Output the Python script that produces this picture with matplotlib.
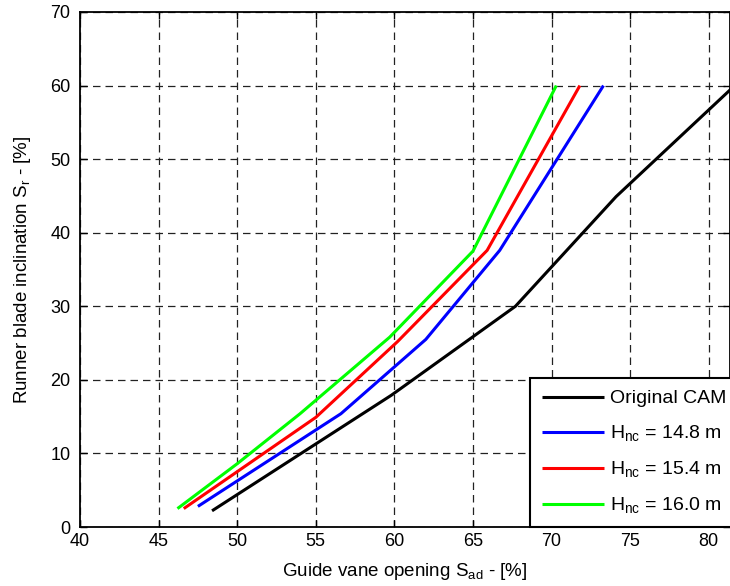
import matplotlib

matplotlib.use("Agg")
import matplotlib.pyplot as plt

# CAM curves: guide vane opening (%) vs runner blade inclination (%)
cam_x = [48.4, 59.8, 67.7, 74.1, 82.5]
cam_y = [2.2, 17.9, 30.0, 44.9, 61.7]

h148_x = [47.5, 56.6, 62.0, 66.7, 73.3]
h148_y = [2.8, 15.4, 25.5, 37.6, 60.0]

h154_x = [46.6, 55.0, 60.2, 65.9, 71.8]
h154_y = [2.5, 14.9, 25.2, 37.6, 60.0]

h160_x = [46.2, 50.0, 54.0, 59.7, 65.0, 70.3]
h160_y = [2.5, 8.6, 15.4, 25.8, 37.5, 60.0]

labels = [
    "Original CAM",
    r"$\mathregular{H_{nc}}$ = 14.8 m",
    r"$\mathregular{H_{nc}}$ = 15.4 m",
    r"$\mathregular{H_{nc}}$ = 16.0 m",
]
colors = ["#000000", "#0000ff", "#ff0000", "#00ff00"]

plt.rcParams["font.family"] = ["Liberation Sans", "DejaVu Sans"]
plt.rcParams["mathtext.fontset"] = "custom"
plt.rcParams["mathtext.rm"] = "Liberation Sans"

fig = plt.figure(figsize=(7.30, 5.86), dpi=100)
ax = fig.add_axes([80 / 730, 1 - 527 / 586, 650 / 730, 515 / 586])

series = [(cam_x, cam_y), (h148_x, h148_y), (h154_x, h154_y), (h160_x, h160_y)]
for (xs, ys), lab, col in zip(series, labels, colors):
    ax.plot(xs, ys, color=col, lw=2.2, label=lab, solid_capstyle="butt")

ax.set_xlim(40, 81.35)
ax.set_ylim(0, 70)
ax.set_xticks(range(40, 85, 5))
ax.set_yticks(range(0, 80, 10))

ax.grid(True, color="#222222", linestyle=(0, (6, 4)), linewidth=0.9)
ax.tick_params(direction="in", length=5, width=1, top=True, right=True,
               labelsize=13, colors="black")
ax.tick_params(axis="x", pad=4)
ax.tick_params(axis="y", pad=7)
for sp in ax.spines.values():
    sp.set_linewidth(1.3)

ax.set_xlabel(r"Guide vane opening $\mathregular{S_{ad}}$ - [%]", fontsize=13.5, labelpad=8)
ax.set_ylabel(r"Runner blade inclination $\mathregular{S_{r}}$ - [%]", fontsize=13.5, labelpad=12)

leg = ax.legend(
    loc="lower left",
    bbox_to_anchor=((530 - 80) / 650, 0.0),
    fontsize=14,
    handlelength=3.2,
    handletextpad=0.3,
    labelspacing=0.82,
    borderpad=0.6,
    borderaxespad=0.0,
    fancybox=False,
    framealpha=1,
    edgecolor="black",
)
leg.get_frame().set_linewidth(1.5)

fig.savefig("out.png", dpi=100, facecolor="white")
